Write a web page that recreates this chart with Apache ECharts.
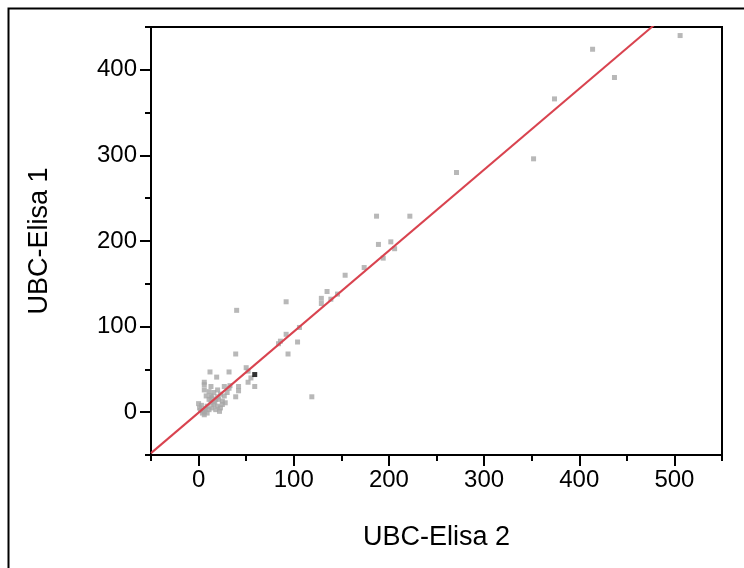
<!DOCTYPE html>
<html>
<head>
<meta charset="utf-8">
<script src="https://cdn.jsdelivr.net/npm/echarts@6/dist/echarts.min.js"></script>
<style>html,body{margin:0;padding:0;background:#fff}#c{width:744px;height:568px}</style>
</head>
<body>
<div id="c"></div>
<script>
// UBC-Elisa 2 (x) vs UBC-Elisa 1 (y)
const elisa2 = [506, 414, 437, 374, 352, 271, 187, 222, 189, 202, 206, 194, 174, 154, 135, 129, 129, 139, 146, 92, 92, 106, 86, 84, 104, 94, 119, 40, 39, 52, 59, 42, 42, 39, 50, 52, 55,
  12, 19, 32, 6, 6, 13, 6, 27, 33, 32, 8, 11, 16, 20, 23, 27, 30, 14, 18, 21, 25, 13, 16, 20, 23, 9, 7, 6, 11, 14, 18, 22, 4, 9, 6, 25, 13, 11, 28, 2, 1, 3, 0, 17, 20];
const elisa1 = [440, 424, 391, 366, 296, 280, 229, 229, 196, 199, 191, 180, 169, 160, 141, 133, 127, 132, 138, 129, 91, 99, 83, 80, 82, 68, 18, 119, 68, 35, 30, 30, 25, 18, 52, 48, 40,
  47, 41, 47, 35, 32, 30, 26, 30, 31, 28, 19, 15, 23, 26, 21, 19, 23, 17, 15, 15, 13, 11, 9, 7, 5, 7, 4, 1, 3, 5, 3, 1, -1, -1, -3, 9, 19, 24, 11, 2, 5, 8, 10, 12, 18];
const highlightX = [59];
const highlightY = [44];
const fitLine = [-0.5, 0.946]; // intercept, slope
const xTicks = [0, 100, 200, 300, 400, 500];
const xMinor = [-50, 50, 150, 250, 350, 450, 550];
const yTicks = [0, 100, 200, 300, 400];
const yMinor = [-50, 50, 150, 250, 350, 450];
const xRange = [-50, 550];
const yRange = [-50, 450];

const pts = elisa2.map((v, i) => [v, elisa1[i]]);
const hi = highlightX.map((v, i) => [v, highlightY[i]]);
const fit = xRange.map(x => [x, fitLine[0] + fitLine[1] * x]);

const font = 'Liberation Sans, Arial, sans-serif';
const chart = echarts.init(document.getElementById('c'), null, {renderer: 'canvas'});
const majorAxis = (ticks, range, extra, margin) => Object.assign({
  type: 'value', min: range[0], max: range[1],
  axisLine: {show: true, onZero: false, lineStyle: {color: '#000', width: 2}},
  axisTick: {show: true, length: 11, customValues: ticks, lineStyle: {color: '#000', width: 2}},
  axisLabel: {customValues: ticks, color: '#000', fontSize: 24, fontFamily: font, margin: margin},
  splitLine: {show: false},
  nameLocation: 'middle',
  nameTextStyle: {color: '#000', fontSize: 27, fontFamily: font}
}, extra);
const minorAxis = (ticks, range, pos) => ({
  type: 'value', min: range[0], max: range[1], position: pos,
  axisLine: {show: false, onZero: false},
  axisTick: {show: true, length: 6, customValues: ticks, lineStyle: {color: '#000', width: 2}},
  axisLabel: {show: false},
  splitLine: {show: false}
});

chart.setOption({
  animation: false,
  backgroundColor: '#fff',
  grid: {left: 151, right: 22, top: 27, bottom: 113, show: true, borderColor: '#000', borderWidth: 2, backgroundColor: 'transparent'},
  graphic: [{
    type: 'rect', left: 6, top: 6, shape: {width: 800, height: 800},
    style: {fill: 'none', stroke: '#000', lineWidth: 2}, silent: true
  }],
  xAxis: [
    majorAxis(xTicks, xRange, {position: 'bottom', name: 'UBC-Elisa 2', nameGap: 69}, 13),
    minorAxis(xMinor, xRange, 'bottom')
  ],
  yAxis: [
    majorAxis(yTicks, yRange, {position: 'left', name: 'UBC-Elisa 1', nameGap: 98}, 14),
    minorAxis(yMinor, yRange, 'left')
  ],
  series: [
    {type: 'scatter', data: pts, symbol: 'rect', symbolSize: 5, itemStyle: {color: '#a6a6a6'}, z: 2},
    {type: 'scatter', data: hi, symbol: 'rect', symbolSize: 5, itemStyle: {color: '#000'}, z: 3},
    {type: 'line', data: fit, showSymbol: false, symbol: 'none', clip: true, lineStyle: {color: '#d9434f', width: 2}, z: 4}
  ]
});
</script>
</body>
</html>
